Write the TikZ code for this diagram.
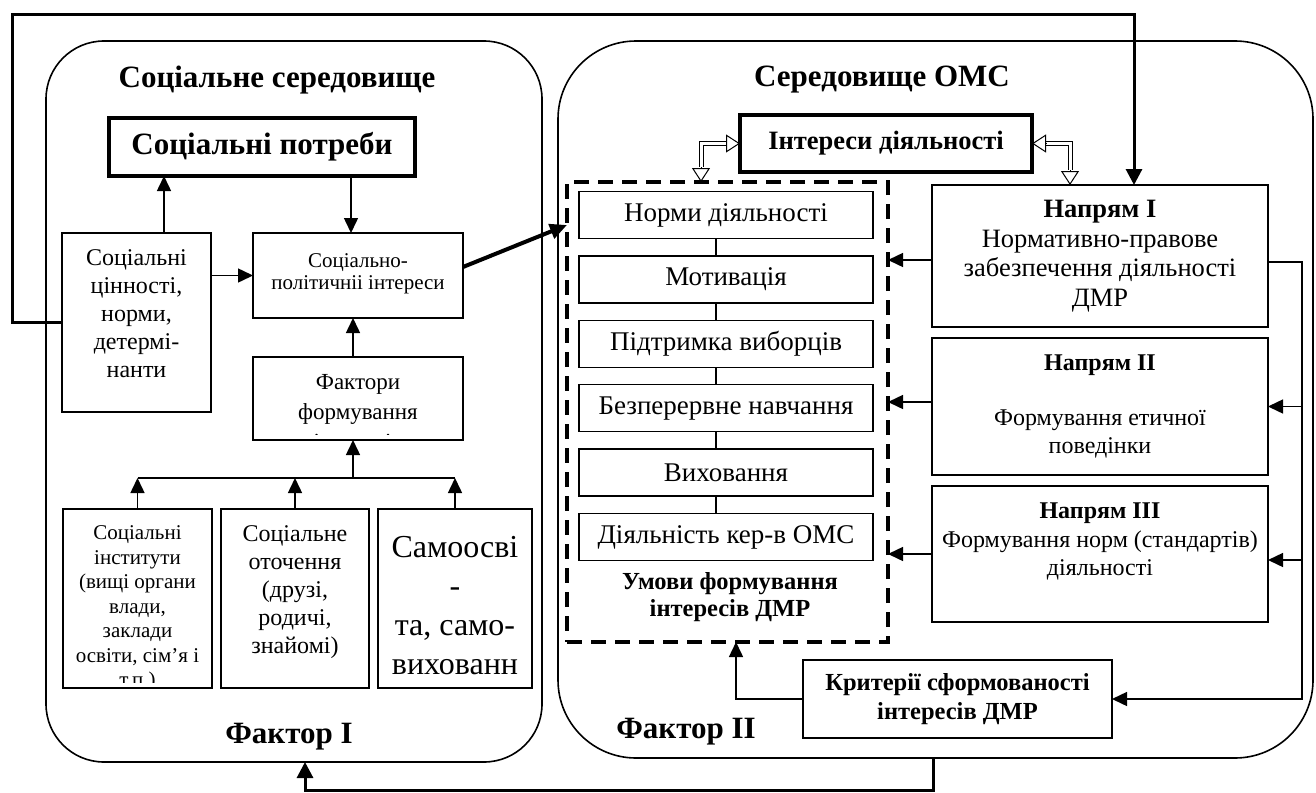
\documentclass[tikz,border=0pt]{standalone}
\usepackage{fontspec}
\setmainfont{Liberation Serif}
\usetikzlibrary{arrows.meta}
\newcommand{\fsz}[2]{\fontsize{#1}{#2}\selectfont}
\begin{document}
\begin{tikzpicture}[x=1pt,y=-1pt,
  every node/.style={inner sep=0pt, outer sep=0pt},
  box/.style={draw, line width=1.4pt, align=center},
  thickbox/.style={draw, line width=3.5pt, align=center},
  envbox/.style={draw, line width=1.6pt},
  txt/.style={align=center},
  item/.style={draw, line width=1.4pt, minimum width=294pt, minimum height=47pt, font=\fsz{27}{31}},
  arr/.style={line width=1.5pt, -{Triangle[length=15pt,width=14pt]}},
  fbarr/.style={line width=3pt, -{Triangle[length=16pt,width=16pt]}},
  dbl/.style={line width=1pt, double=white, double distance=3pt},
  htip/.style={line width=1pt, -{Triangle[open,length=14pt,width=18pt]}},
  title/.style={font=\bfseries\fsz{31}{36}}
]
\useasboundingbox (0,0) rectangle (1316,792);

% environments
\node[envbox, rounded corners=58pt, minimum width=496pt, minimum height=721pt] (envL) at (294,401.5) {};
\node[envbox, rounded corners=78pt, minimum width=755pt, minimum height=717pt] (envR) at (935.5,399.5) {};

\node[title] (titleL) at (277,80) {Соціальне середовище};
\node[title] (titleR) at (882,80) {Середовище ОМС};
\node[title, anchor=base] (factorI) at (289,743) {Фактор I};
\node[title, anchor=base] (factorII) at (686,738) {Фактор II};

% left part
\node[thickbox, minimum width=306pt, minimum height=58pt, font=\bfseries\fsz{31}{36}] (needs) at (262,147) {Соціальні потреби};

\node[box, minimum width=149pt, minimum height=179pt] (vals) at (136.5,322.5) {};
\node[txt, anchor=north, font=\fsz{24}{28}] (valsT) at (136.5,250) {Соціальні\\цінності,\\норми,\\детермі-\\нанти};

\node[box, minimum width=210pt, minimum height=85pt] (socpol) at (358,275.5) {};
\node[txt, anchor=north, font=\fsz{21}{22}] (socpolT) at (358,254) {Соціально-\\політичніі інтереси};

\node[box, minimum width=210pt, minimum height=83pt] (factors) at (358,398.5) {};
\begin{scope}
\clip (253,357) rectangle (463,434);
\node[txt, anchor=north, font=\fsz{23}{30}] (factorsT) at (358,374.5) {Фактори\\формування\\інтересів};
\end{scope}

\node[box, minimum width=149pt, minimum height=179pt] (inst) at (137.5,598.5) {};
\begin{scope}
\clip (63,509) rectangle (212,682);
\node[txt, anchor=north, font=\fsz{21}{24.5}] (instT) at (137.5,526) {Соціальні\\інститути\\(вищі органи\\влади,\\заклади\\освіти, сім’я і\\т.п.)};
\end{scope}

\node[box, minimum width=148pt, minimum height=179pt] (envb) at (295,598.5) {};
\node[txt, anchor=north, font=\fsz{24}{28}] (envT) at (295,526) {Соціальне\\оточення\\(друзі,\\родичі,\\знайомі)};

\node[box, minimum width=154pt, minimum height=179pt] (selfb) at (455,598.5) {};
\node[txt, anchor=north, font=\fsz{32}{39}] (selfT) at (455,536) {Самоосві\\-\\та, само-\\вихованн};

\coordinate (bus) at (353,478);
\draw[line width=1.5pt] (inst.north |- bus) -- (selfb.north |- bus);
\draw[arr] (bus) -- (bus |- factors.south);
\draw[arr] (inst.north) -- (inst.north |- bus);
\draw[arr] (envb.north) -- (envb.north |- bus);
\draw[arr] (selfb.north) -- (selfb.north |- bus);

\draw[arr] ([xshift=27.5pt]vals.north) -- ([xshift=27.5pt]vals.north |- needs.south);
\draw[arr] ([xshift=-7pt]socpol.north |- needs.south) -- ([xshift=-7pt]socpol.north);
\draw[arr] (vals.east |- socpol.west) -- (socpol.west);
\draw[arr] (bus |- factors.north) -- (bus |- socpol.south);

% conditions block
\node[draw, line width=3.5pt, dash pattern=on 15pt off 9pt, minimum width=321pt, minimum height=460pt] (cond) at (727.5,412) {};
\node[item] (it1) at (726,215) {Норми діяльності};
\node[item] (it2) at (726,279.4) {Мотивація};
\node[item] (it3) at (726,343.8) {Підтримка виборців};
\node[item] (it4) at (726,408.2) {Безперервне навчання};
\node[item] (it5) at (726,472.6) {Виховання};
\node[item] (it6) at (726,537) {Діяльність кер-в ОМС};
\foreach \a/\b in {it1/it2,it2/it3,it3/it4,it4/it5,it5/it6}
  \draw[line width=1.2pt] ([xshift=-10pt]\a.south) -- ([xshift=-10pt]\b.north);
\node[txt, font=\bfseries\fsz{24.5}{27.5}] (condT) at (730,597) {Умови формування\\інтересів ДМР};

\draw[line width=4pt, -{Triangle[length=17pt,width=15pt]}] ([yshift=8.5pt]socpol.east) -- ([yshift=187pt]cond.west);

% right part
\node[thickbox, minimum width=292pt, minimum height=57pt, font=\bfseries\fsz{26.5}{30}] (interest) at (886,143.5) {Інтереси діяльності};

\node[box, minimum width=336pt, minimum height=142pt, font=\fsz{26.5}{29.5}] (dir1) at (1100,256) {\textbf{Напрям I}\\Нормативно-правове\\забезпечення діяльності\\ДМР};
\node[box, minimum width=336pt, minimum height=137pt, font=\fsz{24}{27.5}] (dir2) at (1100,406.5) {\textbf{Напрям II}\\[27.5pt]Формування етичної\\поведінки};
\node[box, minimum width=336pt, minimum height=136pt] (dir3) at (1100,554) {};
\node[txt, anchor=north, font=\fsz{24}{28.5}] (dir3T) at (1100,503) {\textbf{Напрям III}\\Формування норм (стандартів)\\діяльності};

\node[box, minimum width=309pt, minimum height=78pt, font=\bfseries\fsz{24.5}{29}] (crit) at (957.5,699) {Критерії сформованості\\інтересів ДМР};

\draw[arr] ([yshift=-4pt]dir1.west) -- ([yshift=-4pt]dir1.west -| cond.east);
\draw[arr] ([yshift=4.5pt]dir2.west) -- ([yshift=4.5pt]dir2.west -| cond.east);
\draw[arr] (dir3.west) -- (dir3.west -| cond.east);

\coordinate (rb) at (1302,262);
\draw[arr] ([yshift=-6pt]dir1.east) -- (rb) |- (crit.east);
\draw[arr] (rb |- dir2.east) -- (dir2.east);
\draw[arr] ([yshift=-6pt]rb |- dir3.east) -- ([yshift=-6pt]dir3.east);

\draw[arr] (crit.west) -| ([xshift=8.5pt]cond.south);

% hollow double arrows
\coordinate (hl) at (701,143.5);
\coordinate (hr) at (1070,143.5);
\draw[dbl] ([xshift=-14pt]interest.west) -- (hl) -- ([yshift=15pt]hl |- cond.north);
\draw[htip] ([xshift=-14pt]interest.west) -- (interest.west);
\draw[htip] ([yshift=15pt]hl |- cond.north) -- (hl |- cond.north);
\draw[dbl] ([xshift=14pt]interest.east) -- (hr) -- ([yshift=15pt]hr |- dir1.north);
\draw[htip] ([xshift=14pt]interest.east) -- (interest.east);
\draw[htip] ([yshift=15pt]hr |- dir1.north) -- (hr |- dir1.north);

% feedback loops
\coordinate (tl) at (12,15);
\coordinate (tr) at (1134,15);
\draw[fbarr] (vals.west) -| (tl) -- (tr) -- (tr |- dir1.north);
\coordinate (bl) at (305,790);
\draw[fbarr] ([xshift=-2.5pt]envR.south) |- (bl) -- (bl |- envL.south);
\end{tikzpicture}
\end{document}
